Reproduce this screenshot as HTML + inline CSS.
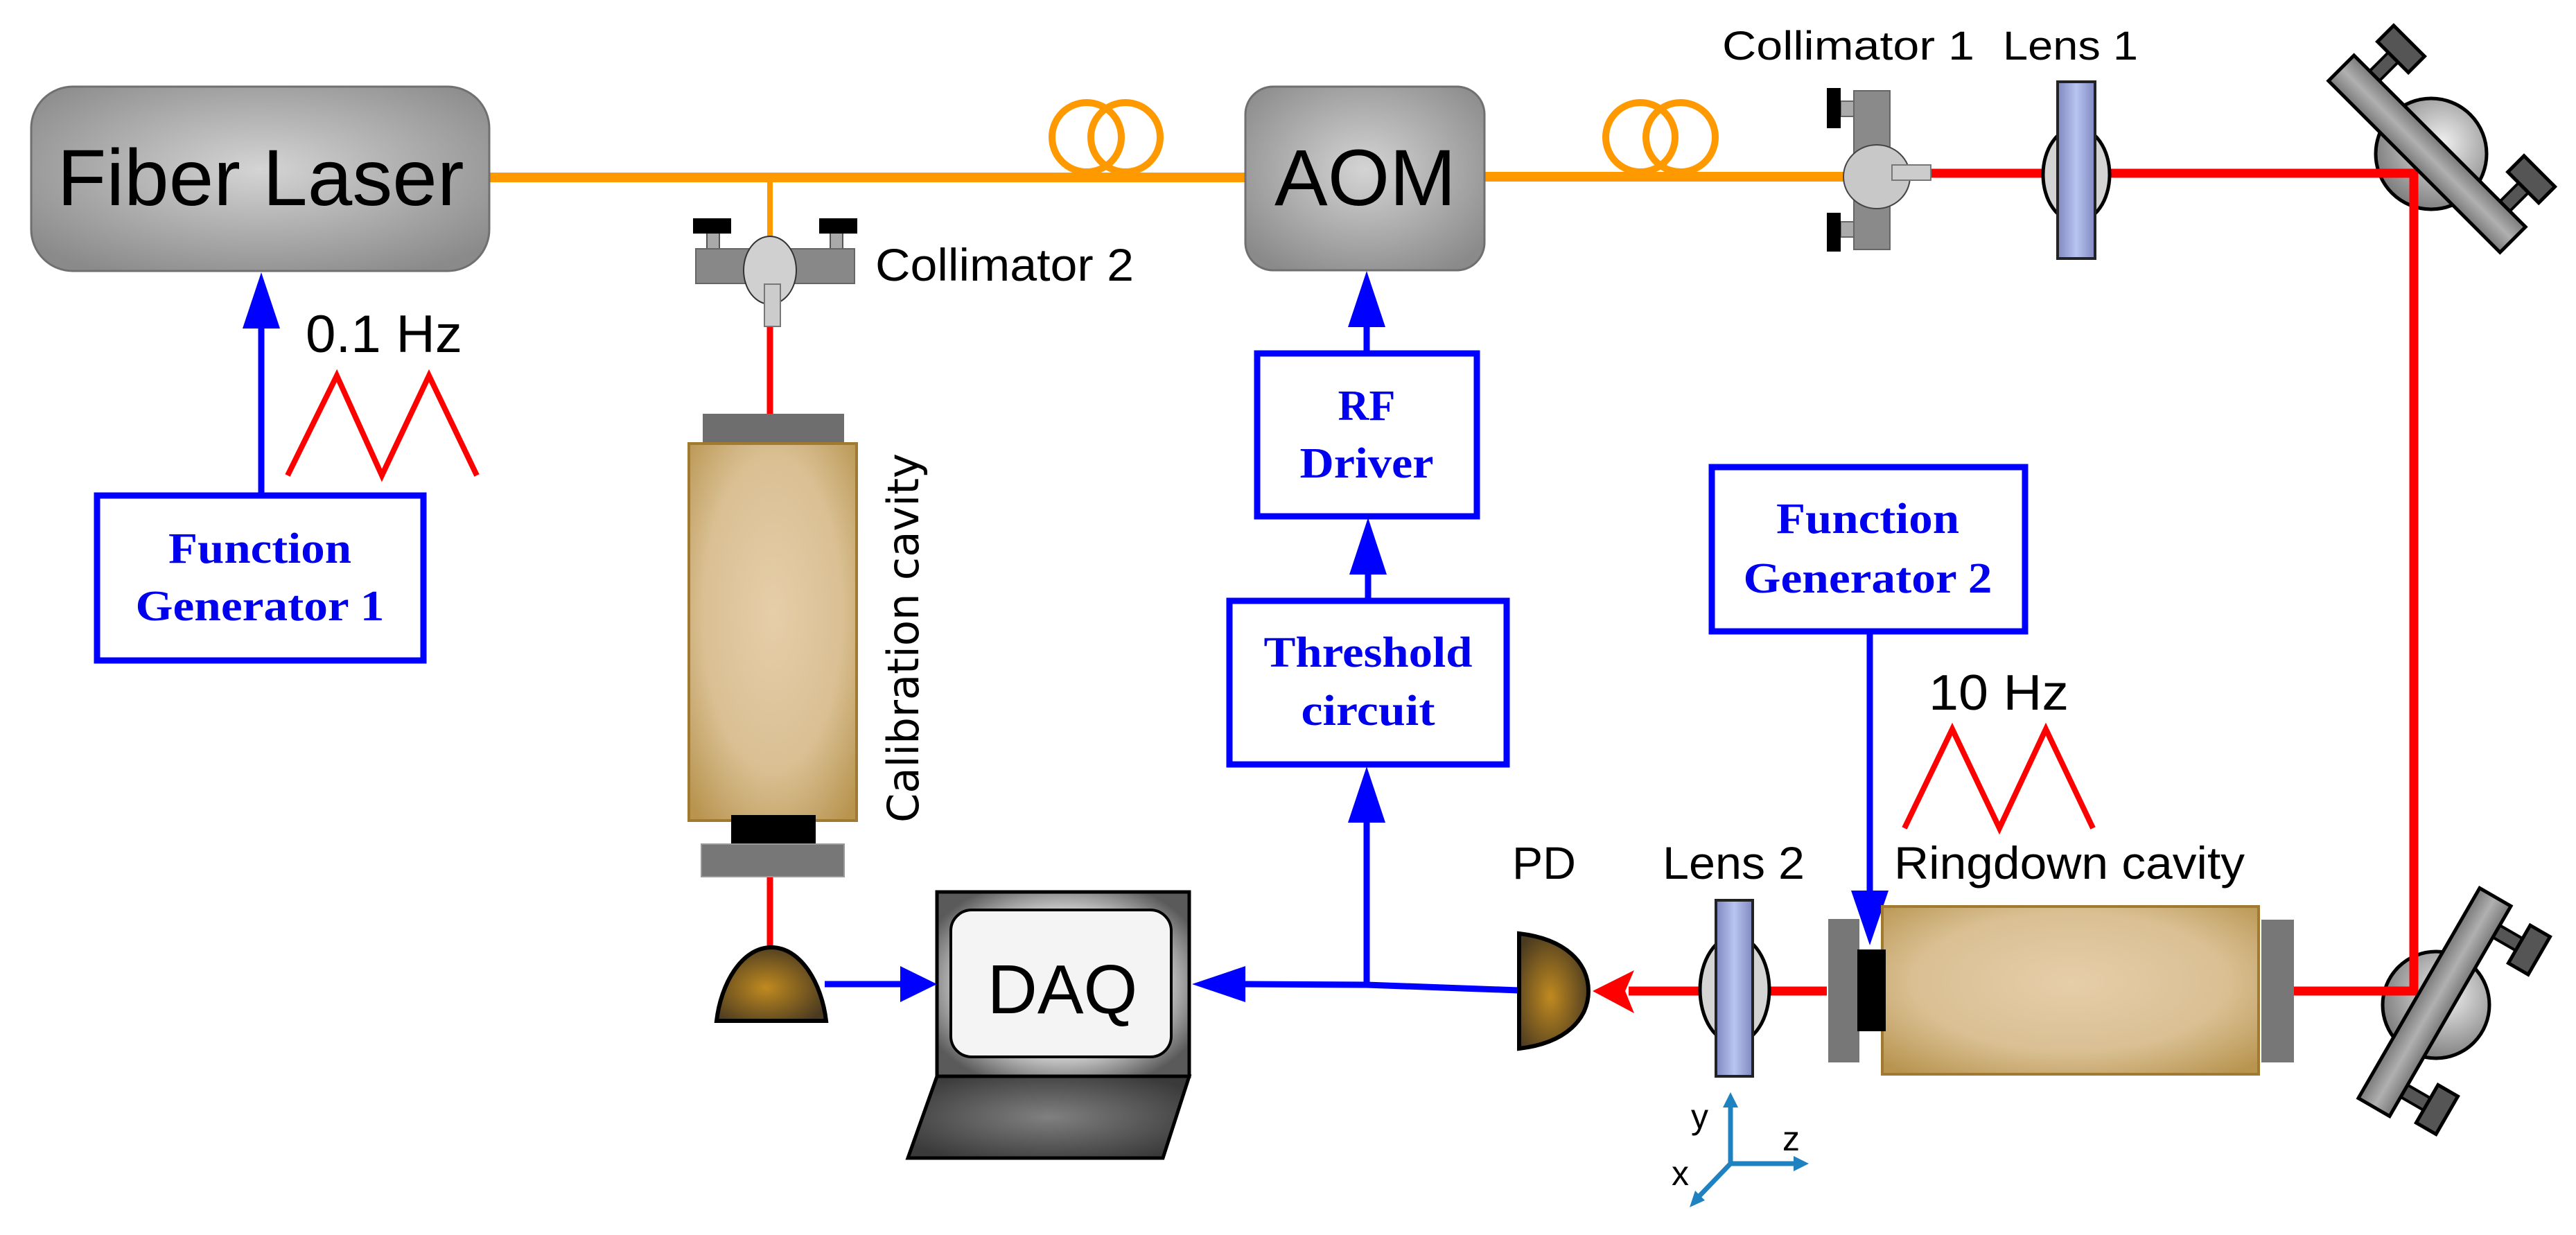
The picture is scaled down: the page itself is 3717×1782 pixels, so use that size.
<!DOCTYPE html>
<html><head><meta charset="utf-8"><style>html,body{margin:0;padding:0;background:#fff}svg{display:block}</style></head>
<body>
<svg width="3717" height="1782" viewBox="0 0 3717 1782" xmlns="http://www.w3.org/2000/svg">
<defs>
<radialGradient id="gbox" cx="50%" cy="45%" r="65%"><stop offset="0" stop-color="#d4d4d4"/><stop offset="1" stop-color="#8a8a8a"/></radialGradient>
<radialGradient id="gtan" cx="50%" cy="45%" r="70%"><stop offset="0" stop-color="#e6ceaa"/><stop offset="0.6" stop-color="#d9bf92"/><stop offset="1" stop-color="#b8944f"/></radialGradient>
<radialGradient id="gpd" cx="45%" cy="55%" r="60%"><stop offset="0" stop-color="#c08a20"/><stop offset="1" stop-color="#4a3a20"/></radialGradient>
<radialGradient id="gdome" cx="60%" cy="40%" r="65%"><stop offset="0" stop-color="#f0f0f0"/><stop offset="1" stop-color="#7a7a7a"/></radialGradient>
<linearGradient id="gbar" x1="0" y1="0" x2="0" y2="1"><stop offset="0" stop-color="#7a7a7a"/><stop offset="0.5" stop-color="#b0b0b0"/><stop offset="1" stop-color="#7a7a7a"/></linearGradient>
<linearGradient id="glens" x1="0" y1="0" x2="1" y2="0"><stop offset="0" stop-color="#8088c0"/><stop offset="0.5" stop-color="#b8c4f0"/><stop offset="1" stop-color="#8088c0"/></linearGradient>
<radialGradient id="gscreen" cx="50%" cy="50%" r="60%"><stop offset="0.6" stop-color="#e0e0e0"/><stop offset="1" stop-color="#5a5a5a"/></radialGradient>
<radialGradient id="gkey" cx="50%" cy="50%" r="60%"><stop offset="0" stop-color="#808080"/><stop offset="1" stop-color="#3a3a3a"/></radialGradient>
</defs>

<!-- Mirror domes (behind beams) -->
<circle cx="3508" cy="222" r="80" fill="url(#gdome)" stroke="#000" stroke-width="5"/>
<circle cx="3515" cy="1450" r="77" fill="url(#gdome)" stroke="#000" stroke-width="5"/>

<!-- Fiber -->
<g fill="none" stroke="#ff9900" stroke-width="14">
<line x1="700" y1="256" x2="1800" y2="256"/>
<line x1="1111" y1="256" x2="1111" y2="345" stroke-width="8"/>
<circle cx="1568" cy="198" r="50" stroke-width="10"/>
<circle cx="1624" cy="198" r="50" stroke-width="10"/>
<line x1="2140" y1="255" x2="2690" y2="255"/>
<circle cx="2367" cy="198" r="50" stroke-width="10"/>
<circle cx="2425" cy="198" r="50" stroke-width="10"/>
</g>
<line x1="1480" y1="256" x2="1720" y2="256" stroke="#ff9900" stroke-width="14"/>
<line x1="2280" y1="255" x2="2510" y2="255" stroke="#ff9900" stroke-width="14"/>

<!-- Red beams -->
<g stroke="#ff0000" fill="none">
<polyline points="2780,250 3483,250 3483,1430 3300,1430" stroke-width="13"/>
<line x1="2636" y1="1430" x2="2350" y2="1430" stroke-width="13"/>
<line x1="1111" y1="470" x2="1111" y2="600" stroke-width="9"/>
<line x1="1111" y1="1265" x2="1111" y2="1370" stroke-width="9"/>
<polyline points="415,686 486,542 551,686 619,542 688,686" stroke-width="8"/>
<polyline points="2748,1195 2817,1052 2885,1195 2952,1052 3020,1195" stroke-width="8"/>
</g>
<polygon points="2298,1430 2358,1400 2345,1430 2358,1462" fill="#ff0000"/>

<!-- Fiber Laser & AOM -->
<rect x="45" y="125" width="661" height="266" rx="60" fill="url(#gbox)" stroke="#707070" stroke-width="3"/>
<text x="376" y="296" font-family="Liberation Sans, sans-serif" font-size="115" text-anchor="middle" textLength="587" lengthAdjust="spacingAndGlyphs">Fiber Laser</text>
<rect x="1797" y="125" width="345" height="265" rx="40" fill="url(#gbox)" stroke="#707070" stroke-width="3"/>
<text x="1970" y="296" font-family="Liberation Sans, sans-serif" font-size="115" text-anchor="middle">AOM</text>

<!-- Collimator 2 -->
<rect x="1020" y="330" width="18" height="30" fill="#aaa" stroke="#555" stroke-width="2"/>
<rect x="1198" y="330" width="18" height="30" fill="#aaa" stroke="#555" stroke-width="2"/>
<rect x="1000" y="315" width="55" height="22" fill="#000"/>
<rect x="1182" y="315" width="55" height="22" fill="#000"/>
<rect x="1004" y="359" width="229" height="50" fill="#888" stroke="#666" stroke-width="2"/>
<ellipse cx="1111" cy="390" rx="38" ry="49" fill="#d0d0d0" stroke="#333" stroke-width="2"/>
<rect x="1103" y="410" width="23" height="61" fill="#ccc" stroke="#777" stroke-width="2"/>
<text x="1263" y="405" font-family="Liberation Sans, sans-serif" font-size="66" textLength="373" lengthAdjust="spacingAndGlyphs">Collimator 2</text>

<!-- Calibration cavity -->
<rect x="1014" y="597" width="204" height="43" fill="#6e6e6e"/>
<rect x="994" y="640" width="242" height="544" fill="url(#gtan)" stroke="#a07a30" stroke-width="4"/>
<rect x="1055" y="1176" width="122" height="47" fill="#000"/>
<rect x="1012" y="1218" width="206" height="47" fill="#777" stroke="#999" stroke-width="2"/>
<text transform="translate(1325,1187) rotate(-90)" font-family="DejaVu Sans, sans-serif" font-size="62" textLength="533" lengthAdjust="spacingAndGlyphs">Calibration cavity</text>

<!-- PD1 -->
<path d="M1034,1473 C1040,1420 1070,1367 1113,1367 C1156,1367 1186,1420 1192,1473 Z" fill="url(#gpd)" stroke="#000" stroke-width="6"/>

<!-- DAQ -->
<polygon points="1352,1553 1716,1553 1678,1671 1310,1671" fill="url(#gkey)" stroke="#000" stroke-width="5"/>
<rect x="1352" y="1287" width="364" height="266" fill="url(#gscreen)" stroke="#000" stroke-width="5"/>
<rect x="1372" y="1313" width="318" height="212" rx="30" fill="#f4f4f4" stroke="#000" stroke-width="4"/>
<text x="1533" y="1462" font-family="Liberation Sans, sans-serif" font-size="100" text-anchor="middle">DAQ</text>

<!-- Blue connectors -->
<g stroke="#0000ff" stroke-width="9" fill="none">
<line x1="377" y1="715" x2="377" y2="470"/>
<line x1="1190" y1="1420" x2="1300" y2="1420"/>
<polyline points="1795,1420 1972,1421 2192,1429"/>
<line x1="1972" y1="1421" x2="1972" y2="1185"/>
<line x1="1974" y1="867" x2="1974" y2="825"/>
<line x1="1972" y1="510" x2="1972" y2="470"/>
<line x1="2698" y1="911" x2="2698" y2="1290"/>
</g>
<g fill="#0000ff">
<polygon points="377,393 350,474 404,474"/>
<polygon points="1352,1420 1299,1394 1299,1446"/>
<polygon points="1720,1420 1797,1394 1797,1446"/>
<polygon points="1972,1106 1945,1187 1999,1187"/>
<polygon points="1974,747 1947,829 2001,829"/>
<polygon points="1972,391 1945,472 1999,472"/>
<polygon points="2698,1364 2671,1285 2725,1285"/>
</g>
<g fill="none" stroke="#0000ff" stroke-width="9">
<rect x="140" y="715" width="471" height="238"/>
<rect x="1814" y="510" width="317" height="235"/>
<rect x="1774" y="867" width="400" height="236"/>
<rect x="2470" y="674" width="452" height="237"/>
</g>
<g font-family="Liberation Serif, serif" font-weight="bold" fill="#0000ee" text-anchor="middle" font-size="62">
<text x="375" y="812" textLength="264" lengthAdjust="spacingAndGlyphs">Function</text>
<text x="375" y="895" textLength="359" lengthAdjust="spacingAndGlyphs">Generator 1</text>
<text x="2695" y="769" textLength="264" lengthAdjust="spacingAndGlyphs">Function</text>
<text x="2695" y="855" textLength="359" lengthAdjust="spacingAndGlyphs">Generator 2</text>
<text x="1972" y="606">RF</text>
<text x="1972" y="689" textLength="193" lengthAdjust="spacingAndGlyphs">Driver</text>
<text x="1974" y="962" textLength="301" lengthAdjust="spacingAndGlyphs">Threshold</text>
<text x="1974" y="1046" textLength="193" lengthAdjust="spacingAndGlyphs">circuit</text>
</g>

<!-- Labels -->
<g font-family="Liberation Sans, sans-serif" fill="#000">
<text x="441" y="508" font-size="76" textLength="226" lengthAdjust="spacingAndGlyphs">0.1 Hz</text>
<text x="2783" y="1024" font-size="72" textLength="202" lengthAdjust="spacingAndGlyphs">10 Hz</text>
<text x="2485" y="86" font-size="58" textLength="364" lengthAdjust="spacingAndGlyphs">Collimator 1</text>
<text x="2890" y="86" font-size="58" textLength="195" lengthAdjust="spacingAndGlyphs">Lens 1</text>
<text x="2182" y="1268" font-size="66" textLength="92" lengthAdjust="spacingAndGlyphs">PD</text>
<text x="2399" y="1268" font-size="66" textLength="205" lengthAdjust="spacingAndGlyphs">Lens 2</text>
<text x="2733" y="1268" font-size="66" textLength="506" lengthAdjust="spacingAndGlyphs">Ringdown cavity</text>
</g>

<!-- Collimator 1 -->
<rect x="2656" y="146" width="22" height="22" fill="#aaa" stroke="#666" stroke-width="2"/>
<rect x="2656" y="320" width="22" height="22" fill="#aaa" stroke="#666" stroke-width="2"/>
<rect x="2636" y="127" width="20" height="58" fill="#000"/>
<rect x="2636" y="307" width="20" height="56" fill="#000"/>
<rect x="2675" y="131" width="52" height="229" fill="#8a8a8a" stroke="#666" stroke-width="2"/>
<ellipse cx="2708" cy="255" rx="48" ry="46" fill="#c8c8c8" stroke="#444" stroke-width="2"/>
<rect x="2730" y="238" width="56" height="22" fill="#ccc" stroke="#777" stroke-width="2"/>

<!-- Lens 1 -->
<ellipse cx="2996" cy="252" rx="48" ry="68" fill="#d4d4d4" stroke="#000" stroke-width="5"/>
<rect x="2969" y="118" width="54" height="255" fill="url(#glens)" stroke="#222" stroke-width="4"/>

<!-- Lens 2 -->
<ellipse cx="2503" cy="1428" rx="50" ry="77" fill="#d4d4d4" stroke="#000" stroke-width="5"/>
<rect x="2476" y="1299" width="53" height="254" fill="url(#glens)" stroke="#222" stroke-width="4"/>

<!-- PD2 -->
<path d="M2192,1347 C2260,1355 2292,1390 2292,1430 C2292,1470 2260,1505 2192,1513 Z" fill="url(#gpd)" stroke="#000" stroke-width="6"/>

<!-- Ringdown cavity -->
<rect x="2638" y="1326" width="45" height="207" fill="#777"/>
<rect x="2716" y="1308" width="543" height="242" fill="url(#gtan)" stroke="#a07a30" stroke-width="4"/>
<rect x="2680" y="1370" width="41" height="118" fill="#000"/>
<rect x="3263" y="1327" width="47" height="206" fill="#777"/>

<!-- Mirror 1 -->
<g transform="translate(3502,222) rotate(45)">
<rect x="-143" y="-66" width="20" height="42" fill="#555" stroke="#000" stroke-width="4"/>
<rect x="123" y="-66" width="20" height="42" fill="#555" stroke="#000" stroke-width="4"/>
<rect x="-165" y="-97" width="63" height="33" fill="#555" stroke="#000" stroke-width="5"/>
<rect x="101" y="-97" width="63" height="33" fill="#555" stroke="#000" stroke-width="5"/>
<rect x="-175" y="-26" width="350" height="52" fill="url(#gbar)" stroke="#000" stroke-width="5"/>
</g>

<!-- Mirror 2 -->
<g transform="translate(3513,1446) rotate(120)">
<rect x="-143" y="-66" width="20" height="42" fill="#555" stroke="#000" stroke-width="4"/>
<rect x="123" y="-66" width="20" height="42" fill="#555" stroke="#000" stroke-width="4"/>
<rect x="-165" y="-97" width="63" height="33" fill="#555" stroke="#000" stroke-width="5"/>
<rect x="101" y="-97" width="63" height="33" fill="#555" stroke="#000" stroke-width="5"/>
<rect x="-175" y="-26" width="350" height="52" fill="url(#gbar)" stroke="#000" stroke-width="5"/>
</g>

<!-- Axes -->
<g stroke="#1f82c0" stroke-width="7" fill="none">
<line x1="2497" y1="1679" x2="2497" y2="1590"/>
<line x1="2497" y1="1679" x2="2595" y2="1679"/>
<line x1="2497" y1="1679" x2="2448" y2="1730"/>
</g>
<g fill="#1f82c0">
<polygon points="2497,1576 2486,1598 2508,1598"/>
<polygon points="2610,1679 2588,1668 2588,1690"/>
<polygon points="2438,1742 2446,1718 2460,1732"/>
</g>
<g font-family="Liberation Sans, sans-serif" font-size="50" fill="#000">
<text x="2440" y="1628">y</text>
<text x="2572" y="1660">z</text>
<text x="2412" y="1710">x</text>
</g>
</svg>
</body></html>
